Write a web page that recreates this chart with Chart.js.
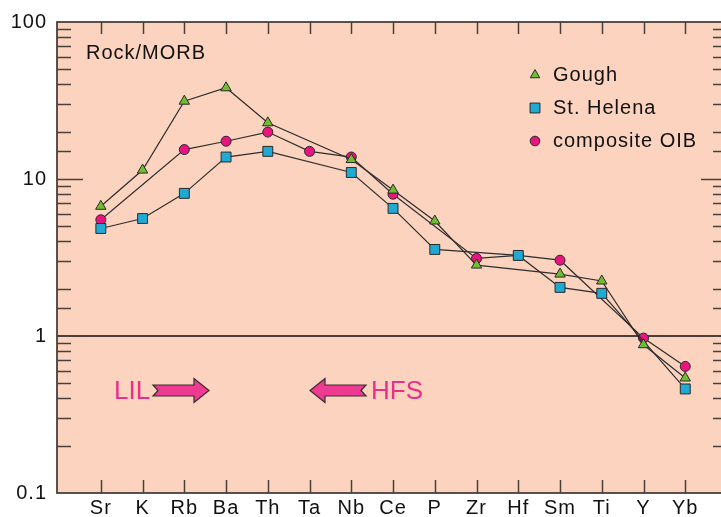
<!DOCTYPE html>
<html>
<head>
<meta charset="utf-8">
<script src="https://cdn.jsdelivr.net/npm/chart.js@4/dist/chart.umd.min.js"></script>
<style>
  html, body { margin: 0; padding: 0; background: #ffffff; overflow: hidden; }
  #wrap { width: 721px; height: 517px; overflow: hidden; position: relative; }
  canvas { display: block; }
</style>
</head>
<body>
<div id="wrap"><canvas id="c" width="735" height="517"></canvas></div>
<script>
// Trace-element abundances normalised to MORB
const elements = ['Sr', 'K', 'Rb', 'Ba', 'Th', 'Ta', 'Nb', 'Ce', 'P', 'Zr', 'Hf', 'Sm', 'Ti', 'Y', 'Yb'];
const gough = [6.7, 11.4, 31.3, 38.1, 22.8, null, 13.3, 8.5, 5.4, 2.83, null, 2.48, 2.24, 0.88, 0.54];
const stHelena = [4.84, 5.6, 8.1, 13.8, 15.0, null, 11.0, 6.5, 3.56, null, 3.26, 2.04, 1.87, null, 0.46];
const compositeOIB = [5.5, null, 15.4, 17.4, 19.9, 15.0, 13.8, 8.0, null, 3.12, 3.26, 3.04, null, 0.97, 0.64];
const yTickLabels = [0.1, 1, 10, 100];

const FONT = '"Liberation Sans", Arial, Helvetica, sans-serif';
const PEACH = '#fbd3be';
const FRAME = '#4a403b';
const PINK = '#ec2d8c';

const GREEN = '#6fbe2e';
const CYAN = '#1faad4';
const MAGENTA = '#e8147f';

function toPoints(values) {
  return values.map((v, i) => ({ x: i, y: v })).filter(p => p.y !== null);
}

function isDecade(v) {
  const l = Math.log10(v);
  return Math.abs(l - Math.round(l)) < 1e-9;
}

function drawArrow(ctx, tail, tip, yc) {
  const dir = tip > tail ? 1 : -1;
  const hb = 5.5, hh = 12, hl = 15, notch = 5;
  const neck = tip - dir * hl;
  ctx.beginPath();
  ctx.moveTo(tail, yc - hb);
  ctx.lineTo(neck, yc - hb);
  ctx.lineTo(neck, yc - hh);
  ctx.lineTo(tip, yc);
  ctx.lineTo(neck, yc + hh);
  ctx.lineTo(neck, yc + hb);
  ctx.lineTo(tail, yc + hb);
  ctx.lineTo(tail + dir * notch, yc);
  ctx.closePath();
  ctx.fillStyle = '#ee3a91';
  ctx.fill();
  ctx.lineWidth = 1.2;
  ctx.strokeStyle = '#3a2a30';
  ctx.stroke();
}

const framePlugin = {
  id: 'frame',
  beforeUpdate(chart) { chart.ctx.letterSpacing = '1px'; },
  beforeDraw(chart) {
    const { ctx, chartArea: a } = chart;
    ctx.letterSpacing = '1px';
    ctx.save();
    ctx.fillStyle = PEACH;
    ctx.fillRect(a.left, a.top, a.right - a.left, a.bottom - a.top);
    ctx.restore();
  },
  beforeDatasetsDraw(chart) {
    const { ctx, chartArea: a, scales } = chart;
    const xs = scales.x, ys = scales.y;
    ctx.save();
    // reference line at Rock/MORB = 1
    const y1 = ys.getPixelForValue(1);
    ctx.strokeStyle = '#111';
    ctx.lineWidth = 1.5;
    ctx.beginPath();
    ctx.moveTo(a.left, y1);
    ctx.lineTo(a.right, y1);
    ctx.stroke();

    // inward tick marks on the log axis (both sides)
    ctx.strokeStyle = FRAME;
    ctx.lineWidth = 1.5;
    ys.ticks.forEach(t => {
      const v = t.value;
      if (v <= 0.1 + 1e-9 || v >= 100 - 1e-9 || Math.abs(v - 1) < 1e-9) return;
      const py = Math.round(ys.getPixelForValue(v)) + 0.5;
      const len = isDecade(v) ? 26 : 14;
      ctx.beginPath();
      ctx.moveTo(a.left, py); ctx.lineTo(a.left + len, py);
      ctx.moveTo(a.right, py); ctx.lineTo(a.right - len, py);
      ctx.stroke();
    });
    // inward tick marks at each element, top and bottom
    elements.forEach((_, i) => {
      const px = Math.round(xs.getPixelForValue(i)) + 0.5;
      ctx.beginPath();
      ctx.moveTo(px, a.top); ctx.lineTo(px, a.top + 12);
      ctx.moveTo(px, a.bottom); ctx.lineTo(px, a.bottom - 13);
      ctx.stroke();
    });
    // plot frame
    ctx.lineWidth = 1.8;
    ctx.strokeRect(a.left, a.top, a.right - a.left, a.bottom - a.top);
    ctx.restore();
  },
  afterDatasetsDraw(chart) {
    const { ctx } = chart;
    ctx.save();
    ctx.letterSpacing = '1px';
    ctx.fillStyle = '#111';
    ctx.font = '20px ' + FONT;
    ctx.textBaseline = 'middle';
    ctx.textAlign = 'left';
    ctx.fillText('Rock/MORB', 86, 53);

    // legend
    const items = [
      { label: 'Gough', style: 'triangle', color: GREEN, r: 5.5, y: 75 },
      { label: 'St. Helena', style: 'rect', color: CYAN, r: 7, y: 108 },
      { label: 'composite OIB', style: 'circle', color: MAGENTA, r: 4.8, y: 141 }
    ];
    items.forEach(it => {
      ctx.fillStyle = it.color;
      ctx.strokeStyle = '#2a2a2a';
      ctx.lineWidth = 1;
      Chart.helpers.drawPoint(ctx, { pointStyle: it.style, radius: it.r, rotation: 0, borderWidth: 1 }, 535, it.y);
      ctx.fillStyle = '#111';
      ctx.fillText(it.label, 553, it.y);
    });

    // LIL / HFS arrows
    ctx.letterSpacing = '0px';
    ctx.font = '26px ' + FONT;
    ctx.fillStyle = PINK;
    ctx.fillText('LIL', 114, 392);
    ctx.fillText('HFS', 371, 392);
    drawArrow(ctx, 153, 209, 390.5);
    drawArrow(ctx, 366, 310, 390.5);
    ctx.restore();
    ctx.letterSpacing = '1px';
  }
};

function series(label, values, style, color, radius) {
  return {
    label,
    data: toPoints(values),
    borderColor: '#2e2e2e',
    borderWidth: 1.2,
    pointStyle: style,
    pointRadius: radius,
    pointBackgroundColor: color,
    pointBorderColor: '#2a2a2a',
    pointBorderWidth: 1,
    fill: false,
    tension: 0
  };
}

new Chart(document.getElementById('c'), {
  type: 'line',
  data: {
    datasets: [
      series('Gough', gough, 'triangle', GREEN, 6),
      series('St. Helena', stHelena, 'rect', CYAN, 7),
      series('composite OIB', compositeOIB, 'circle', MAGENTA, 5)
    ]
  },
  options: {
    responsive: false,
    animation: false,
    devicePixelRatio: 1,
    layout: { padding: { top: 21, right: 3, left: 0, bottom: 0 } },
    plugins: { legend: { display: false }, tooltip: { enabled: false } },
    scales: {
      x: {
        type: 'linear',
        min: -1.05,
        max: 15,
        grid: { display: false, drawTicks: false },
        border: { display: false },
        afterBuildTicks(s) { s.ticks = elements.map((_, i) => ({ value: i })); },
        afterFit(s) { s.height = 24; },
        ticks: {
          autoSkip: false,
          maxRotation: 0,
          padding: 3,
          color: '#111',
          font: { family: FONT, size: 20 },
          callback: v => elements[v] ?? ''
        }
      },
      y: {
        type: 'logarithmic',
        min: 0.1,
        max: 100,
        grid: { display: false, drawTicks: false },
        border: { display: false },
        afterFit(s) { s.width = 57; },
        ticks: {
          autoSkip: false,
          padding: 10,
          color: '#111',
          font: { family: FONT, size: 20 },
          callback: v => {
            const hit = yTickLabels.find(t => Math.abs(t - v) < 1e-9);
            return hit !== undefined ? String(hit) : '';
          }
        }
      }
    }
  },
  plugins: [framePlugin]
});
</script>
</body>
</html>
